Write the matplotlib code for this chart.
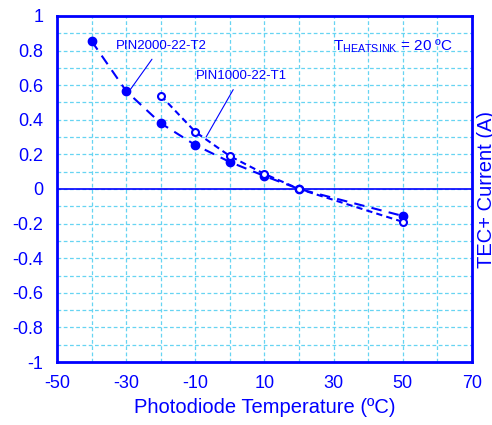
import numpy as np
import matplotlib
matplotlib.use('Agg')
import matplotlib.pyplot as plt
from matplotlib.ticker import MultipleLocator

plt.rcParams['font.family'] = ['Liberation Sans', 'DejaVu Sans']
plt.rcParams['mathtext.fontset'] = 'custom'
plt.rcParams['mathtext.rm'] = 'Liberation Sans'

blue = '#0000ff'
gridc = '#66d4f2'

# TEC+ current vs photodiode temperature
temp_t2 = [-40, -30, -20, -10, 0, 10, 20, 50]
current_t2 = [0.855, 0.566, 0.38, 0.254, 0.156, 0.075, 0.0, -0.156]

temp_t1 = [-20, -10, 0, 10, 20, 50]
current_t1 = [0.54, 0.33, 0.19, 0.087, 0.0, -0.19]

xticks = [-50, -30, -10, 10, 30, 50, 70]
yticks = [-1, -0.8, -0.6, -0.4, -0.2, 0, 0.2, 0.4, 0.6, 0.8, 1]

fig = plt.figure(figsize=(4.92, 4.25), dpi=100)
ax = fig.add_axes([0.1159, 0.1482, 0.8434, 0.8142])

ax.set_xlim(-50, 70)
ax.set_ylim(-1, 1)
ax.set_xticks(xticks)
ax.set_xticklabels([str(t) for t in xticks])
ax.set_yticks(yticks)
ax.set_yticklabels(['%g' % t for t in yticks])
ax.xaxis.set_minor_locator(MultipleLocator(10))
ax.yaxis.set_minor_locator(MultipleLocator(0.1))
ax.grid(which='both', color=gridc, linestyle=(0, (3, 2)), linewidth=0.9)
ax.tick_params(which='both', length=0, colors=blue, labelsize=13)
ax.tick_params(axis='y', pad=10)
ax.tick_params(axis='x', pad=9)
for s in ax.spines.values():
    s.set_color(blue)
    s.set_linewidth(2)
ax.axhline(0, color=blue, linewidth=1.2)

ax.plot(temp_t2, current_t2, color=blue, linestyle=(0, (5, 3.5)), linewidth=1.5,
        marker='o', markersize=6, markerfacecolor=blue, markeredgecolor=blue, zorder=3)
ax.plot(temp_t1, current_t1, color=blue, linestyle=(0, (3, 2)), linewidth=1.5,
        marker='o', markersize=5, markerfacecolor='white', markeredgecolor=blue,
        markeredgewidth=1.5, zorder=3)

ax.annotate('PIN2000-22-T2', xy=(-28.9, 0.572), xytext=(-19.8, 0.827),
            ha='center', va='center', color=blue, fontsize=9.5,
            arrowprops=dict(arrowstyle='-', color=blue, linewidth=0.8,
                            shrinkA=4, shrinkB=0))
ax.annotate('PIN1000-22-T1', xy=(-6.9, 0.30), xytext=(3.2, 0.653),
            ha='center', va='center', color=blue, fontsize=9.5,
            arrowprops=dict(arrowstyle='-', color=blue, linewidth=0.8,
                            shrinkA=4, shrinkB=0))
ax.text(29.8, 0.827, r'T$_{\mathrm{HEATSINK}}$ = 20 ºC', ha='left', va='center',
        color=blue, fontsize=11)

ax.set_xlabel('Photodiode Temperature (ºC)', color=blue, fontsize=14.5, labelpad=5)
fig.text(477 / 492, 1 - 268 / 425, 'TEC+ Current (A)', rotation=90,
         ha='left', va='bottom', color=blue, fontsize=14.5)

fig.savefig('out.png', dpi=100)
